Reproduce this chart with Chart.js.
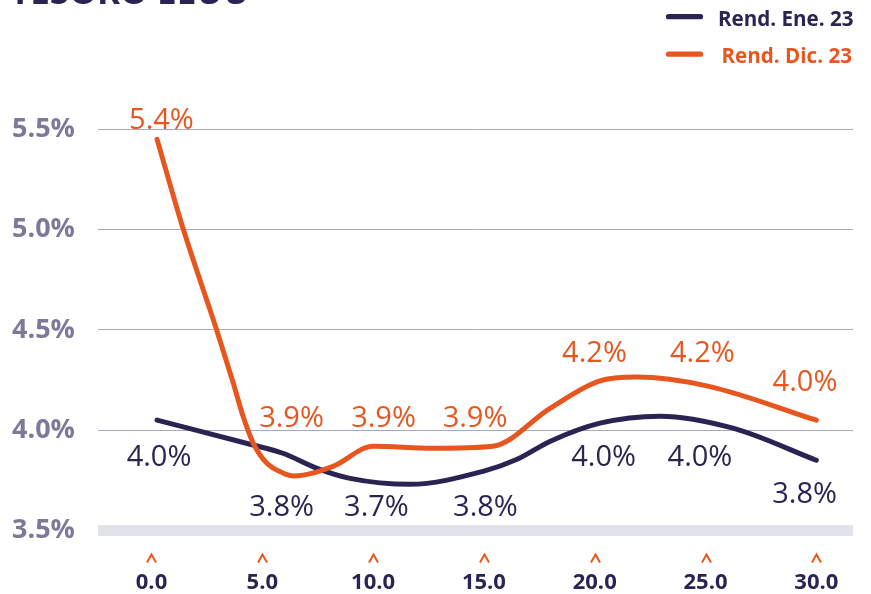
<!DOCTYPE html>
<html>
<head>
<meta charset="utf-8">
<script src="https://cdn.jsdelivr.net/npm/chart.js@4.4.1/dist/chart.umd.min.js"></script>
<style>
  html, body { margin: 0; padding: 0; background: #ffffff; }
  #wrap { width: 871px; height: 594px; position: relative; }
</style>
</head>
<body>
<div id="wrap"><canvas id="c" width="871" height="594"></canvas></div>
<script>
// ---- data ----
const titleText = 'TESORO EEUU';
const seriesNames = ['Rend. Ene. 23', 'Rend. Dic. 23'];

const xTickValues = [0, 5, 10, 15, 20, 25, 30];
const xTickLabels = ['0.0', '5.0', '10.0', '15.0', '20.0', '25.0', '30.0'];
const yTickValues = [3.5, 4.0, 4.5, 5.0, 5.5];
const yTickLabels = ['3.5%', '4.0%', '4.5%', '5.0%', '5.5%'];

// Rend. Ene. 23 (dark line)
const eneYears  = [0.25, 4.45, 5.93, 7.47, 8.96, 11.67, 14.96, 16.5, 18.0, 20.24, 22.95, 26.24, 30.0];
const eneValues = [4.05, 3.93, 3.885, 3.81, 3.76, 3.73, 3.795, 3.855, 3.945, 4.035, 4.07, 4.01, 3.85];

// Rend. Dic. 23 (orange line)
const dicYears  = [0.25, 1.44, 2.94, 3.69, 4.14, 4.59, 5.2, 5.93, 6.43, 8.19, 10.0, 12.7, 15.4, 18.0, 20.2, 21.9, 25.1, 30.0];
const dicValues = [5.45, 5.0, 4.5, 4.235, 4.067, 3.936, 3.836, 3.787, 3.772, 3.82, 3.92, 3.91, 3.92, 4.11, 4.245, 4.265, 4.22, 4.05];

// value labels shown on the chart
const eneLabelText = ['4.0%', '3.8%', '3.7%', '3.8%', '4.0%', '4.0%', '3.8%'];
const dicLabelText = ['5.4%', '3.9%', '3.9%', '3.9%', '4.2%', '4.2%', '4.0%'];

// ---- styles ----
const NAVY = '#2a2453';
const ORANGE = '#e8561f';
const YLAB = '#7c7a98';
const GRID = '#a9a7bb';
const BAND = '#e2e2ea';
const FONT = "'Open Sans', 'Noto Sans', sans-serif";

const toXY = (xs, ys) => xs.map((x, i) => ({ x: x, y: ys[i] }));

// label anchors (data coordinates: years, percent) -- text centres
const labelPlacement = {
  ene: [[0.34, 3.874], [5.87, 3.622], [10.15, 3.622], [15.07, 3.622], [20.40, 3.871], [24.75, 3.871], [29.47, 3.689]],
  dic: [[0.45, 5.554], [6.32, 4.066], [10.47, 4.066], [14.60, 4.066], [19.99, 4.390], [24.86, 4.390], [29.49, 4.248]]
};

const decorPlugin = {
  id: 'decor',
  afterDatasetsDraw(chart) {
    const ctx = chart.ctx;
    const xs = chart.scales.x, ys = chart.scales.y;
    ctx.save();
    // value labels
    ctx.font = '29px ' + FONT;
    ctx.textAlign = 'center';
    ctx.textBaseline = 'alphabetic';
    const drawSet = (texts, anchors, color) => {
      ctx.fillStyle = color;
      texts.forEach((t, i) => {
        const px = xs.getPixelForValue(anchors[i][0]);
        const py = ys.getPixelForValue(anchors[i][1]);
        ctx.fillText(t, px, py + 0.357 * 29);
      });
    };
    drawSet(eneLabelText, labelPlacement.ene, NAVY);
    drawSet(dicLabelText, labelPlacement.dic, ORANGE);

    // carets above x tick labels
    ctx.strokeStyle = ORANGE;
    ctx.lineWidth = 2;
    ctx.lineCap = 'butt';
    ctx.lineJoin = 'miter';
    xTickValues.forEach(v => {
      const px = Math.round(xs.getPixelForValue(v)) + 0.5;
      ctx.beginPath();
      ctx.moveTo(px - 4.5, 562.5);
      ctx.lineTo(px, 554.5);
      ctx.lineTo(px + 4.5, 562.5);
      ctx.stroke();
    });

    // title (cropped at top)
    ctx.font = 'bold 35px ' + FONT;
    ctx.textAlign = 'left';
    ctx.fillStyle = NAVY;
    ctx.fillText(titleText, 10, 4);

    // legend
    const items = [
      { name: seriesNames[0], color: NAVY, ly: 16.7, tx: 718, ty: 18.3 },
      { name: seriesNames[1], color: ORANGE, ly: 54.2, tx: 721.5, ty: 56 }
    ];
    ctx.lineCap = 'round';
    ctx.lineWidth = 5.2;
    ctx.font = 'bold 20.6px ' + FONT;
    items.forEach(it => {
      ctx.strokeStyle = it.color;
      ctx.beginPath();
      ctx.moveTo(668.5, it.ly);
      ctx.lineTo(700.5, it.ly);
      ctx.stroke();
      ctx.fillStyle = it.color;
      ctx.fillText(it.name, it.tx, it.ty + 0.357 * 21);
    });
    ctx.restore();
  }
};

new Chart(document.getElementById('c'), {
  type: 'line',
  data: {
    datasets: [
      {
        label: seriesNames[0],
        data: toXY(eneYears, eneValues),
        borderColor: NAVY,
        backgroundColor: NAVY,
        borderWidth: 5,
        borderCapStyle: 'round',
        borderJoinStyle: 'round',
        cubicInterpolationMode: 'monotone',
        pointRadius: 0,
        fill: false,
        order: 2
      },
      {
        label: seriesNames[1],
        data: toXY(dicYears, dicValues),
        borderColor: ORANGE,
        backgroundColor: ORANGE,
        borderWidth: 5,
        borderCapStyle: 'round',
        borderJoinStyle: 'round',
        cubicInterpolationMode: 'monotone',
        pointRadius: 0,
        fill: false,
        order: 1
      }
    ]
  },
  options: {
    responsive: false,
    animation: false,
    devicePixelRatio: 1,
    layout: { padding: { top: 129.3, left: 12, right: 18, bottom: 0 } },
    plugins: {
      legend: { display: false },
      tooltip: { enabled: false },
      title: { display: false }
    },
    scales: {
      x: {
        type: 'linear',
        min: -2.414,
        max: 31.656,
        grid: { display: false, drawTicks: false },
        border: { display: false },
        afterBuildTicks: s => { s.ticks = xTickValues.map(v => ({ value: v })); },
        afterFit: s => { s.height = 63.5; s.paddingLeft = 0; s.paddingRight = 0; },
        ticks: {
          padding: 39,
          color: NAVY,
          font: { family: FONT, size: 22, weight: 'bold' },
          maxRotation: 0,
          autoSkip: false,
          callback: (v, i) => xTickLabels[i]
        }
      },
      y: {
        type: 'linear',
        min: 3.5,
        max: 5.5,
        afterBuildTicks: s => { s.ticks = yTickValues.map(v => ({ value: v })); },
        afterFit: s => { s.width = 86; s.paddingTop = 0; s.paddingBottom = 0; },
        grid: {
          drawTicks: false,
          color: c => (c.tick && c.tick.value === 3.5) ? BAND : GRID,
          lineWidth: c => (c.tick && c.tick.value === 3.5) ? 11 : 1
        },
        border: { display: false },
        ticks: {
          crossAlign: 'far',
          padding: 0,
          color: YLAB,
          font: { family: FONT, size: 27, weight: 'bold' },
          callback: (v, i) => yTickLabels[i]
        }
      }
    }
  },
  plugins: [decorPlugin]
});
</script>
</body>
</html>
